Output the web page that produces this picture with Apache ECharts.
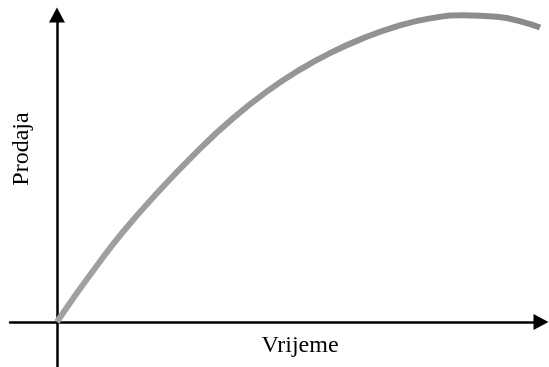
<!DOCTYPE html>
<html>
<head>
<meta charset="utf-8">
<script src="https://cdn.jsdelivr.net/npm/echarts@6/dist/echarts.min.js"></script>
<style>
  html, body { margin: 0; padding: 0; background: #fff; }
  #chart { width: 549px; height: 367px; }
</style>
</head>
<body>
<div id="chart"></div>
<script>
// vrijeme (x) i prodaja (y), procitano sa slike
const vrijeme = [0, 0.33, 0.79, 1.34, 1.98, 2.95, 3.64, 4.34, 5.02, 5.64, 6.32, 7.02, 7.71, 8.39, 9.09, 9.63, 9.98];
const prodaja = [0, 7.6, 17.6, 28.9, 40.5, 56.4, 66.4, 75.1, 82.2, 87.6, 92.4, 96.3, 98.9, 99.9, 99.4, 97.7, 95.9];

const xName = 'Vrijeme';
const yName = 'Prodaja';

const chart = echarts.init(document.getElementById('chart'), null, { renderer: 'canvas' });

const axisLine = {
  onZero: true,
  symbol: ['none', 'triangle'],
  symbolSize: [16, 15],
  lineStyle: { color: '#000', width: 2.5 }
};

const option = {
  animation: false,
  backgroundColor: '#fff',
  grid: { left: 10, right: 8, top: 15, bottom: 0 },
  xAxis: {
    type: 'value',
    min: -0.97,
    max: 10,
    axisLine: axisLine,
    axisTick: { show: false },
    axisLabel: { show: false },
    splitLine: { show: false }
  },
  yAxis: {
    type: 'value',
    min: -14.66,
    max: 100,
    axisLine: axisLine,
    axisTick: { show: false },
    axisLabel: { show: false },
    splitLine: { show: false }
  },
  graphic: [
    {
      type: 'text',
      x: 300, y: 346,
      style: {
        text: xName, fill: '#000',
        font: '24px "Liberation Serif"',
        align: 'center', verticalAlign: 'middle'
      }
    },
    {
      type: 'text',
      x: 22, y: 149,
      rotation: Math.PI / 2,
      style: {
        text: yName, fill: '#000',
        font: '24px "Liberation Serif"',
        align: 'center', verticalAlign: 'middle'
      }
    }
  ],
  series: [{
    type: 'line',
    data: vrijeme.map((v, i) => [v, prodaja[i]]),
    smooth: 0.5,
    clip: false,
    showSymbol: false,
    lineStyle: {
      width: 6,
      color: new echarts.graphic.LinearGradient(0, 0, 1, 0, [
        { offset: 0, color: '#a2a2a2' },
        { offset: 1, color: '#898989' }
      ])
    }
  }]
};

chart.setOption(option);
</script>
</body>
</html>
